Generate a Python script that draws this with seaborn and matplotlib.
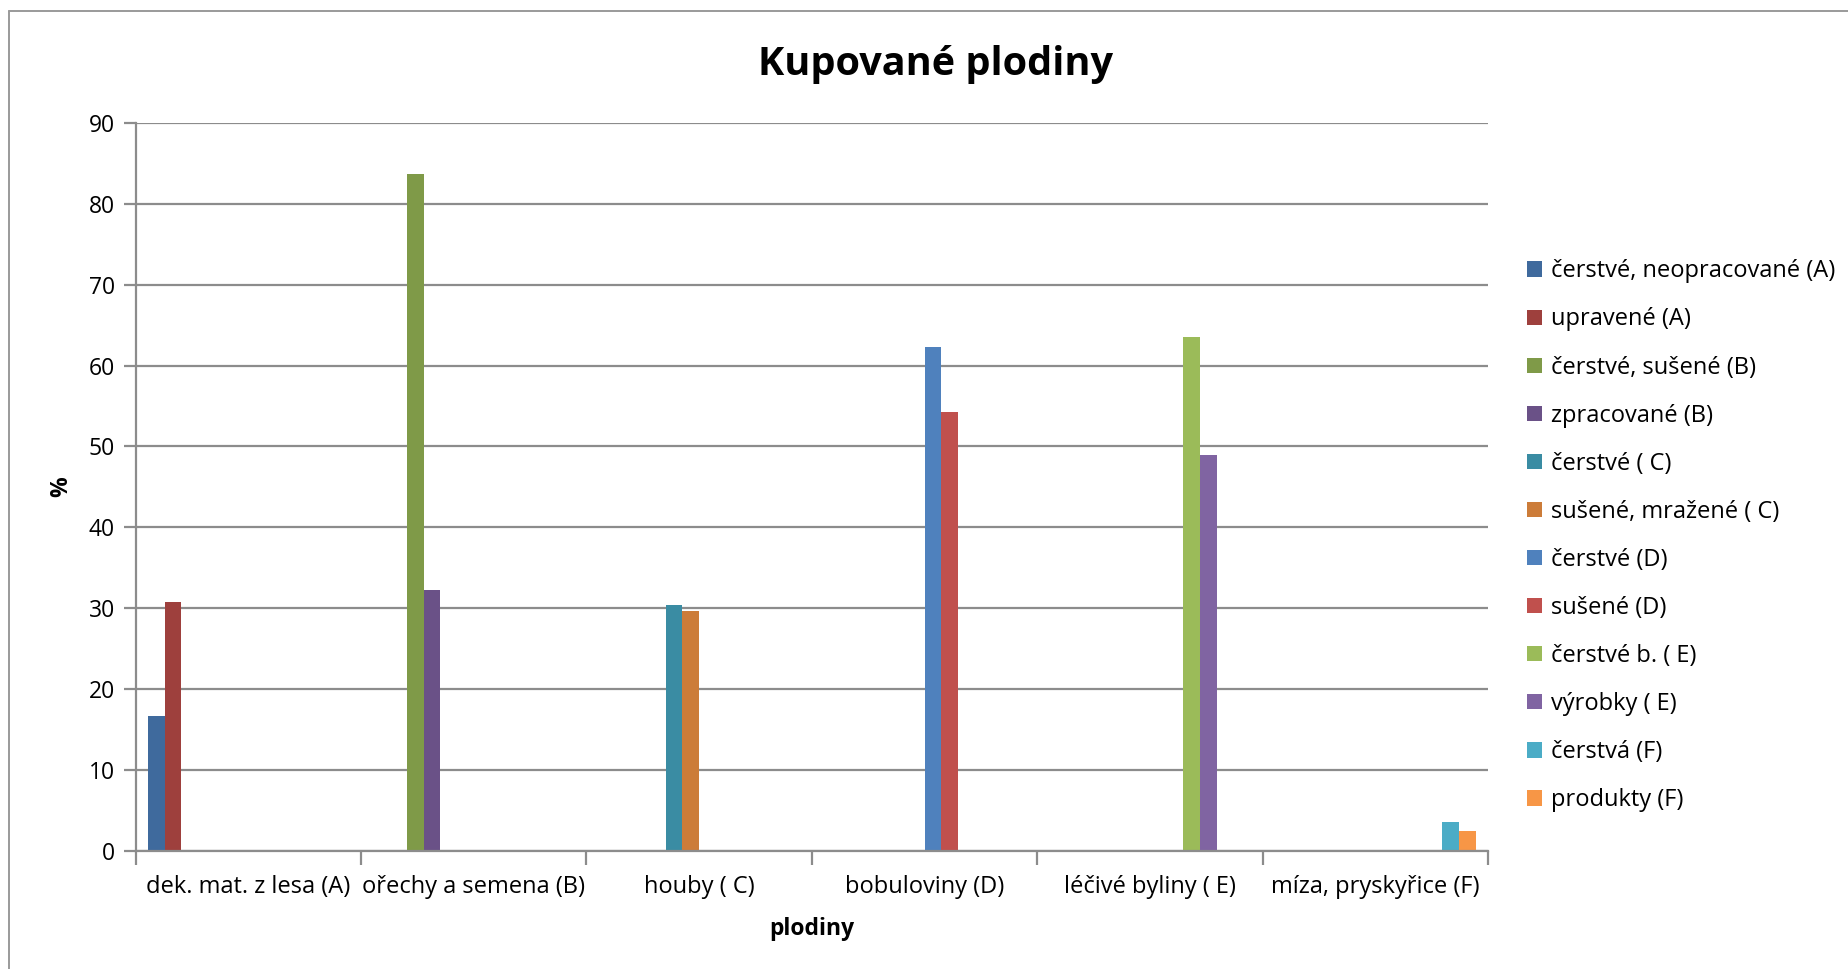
import matplotlib
matplotlib.use("Agg")
import matplotlib.pyplot as plt
from matplotlib.lines import Line2D
from matplotlib.ticker import FixedLocator, NullFormatter
import pandas as pd
import seaborn as sns

# Product groups on the x axis
categories = [
    "dek. mat. z lesa (A)",
    "ořechy a semena (B)",
    "houby ( C)",
    "bobuloviny (D)",
    "léčivé byliny ( E)",
    "míza, pryskyřice (F)",
]

# Series (legend entries), in legend order
series = [
    "čerstvé, neopracované (A)",
    "upravené (A)",
    "čerstvé, sušené (B)",
    "zpracované (B)",
    "čerstvé ( C)",
    "sušené, mražené ( C)",
    "čerstvé (D)",
    "sušené (D)",
    "čerstvé b. ( E)",
    "výrobky ( E)",
    "čerstvá (F)",
    "produkty (F)",
]

# Each series only has a value in its own product group (percent)
series_category = [0, 0, 1, 1, 2, 2, 3, 3, 4, 4, 5, 5]
series_values = [16.7, 30.8, 83.6, 32.3, 30.4, 29.7, 62.3, 54.2, 63.5, 48.9, 3.6, 2.5]

colors = [
    "#3F6A9D", "#9E403D", "#7F9A48", "#6A5187", "#3A8CA3", "#CC7C39",
    "#4F81BD", "#C0504D", "#9BBB59", "#8064A2", "#4BACC6", "#F79646",
]

rows = []
for s, cat_idx, val in zip(series, series_category, series_values):
    for ci, cat in enumerate(categories):
        rows.append({"plodina": cat, "series": s,
                     "value": val if ci == cat_idx else 0.0})
df = pd.DataFrame(rows)

sns.set_theme(style="white")
FONT = ["Open Sans", "DejaVu Sans"]
plt.rcParams["font.family"] = FONT
plt.rcParams["text.color"] = "black"
plt.rcParams["axes.labelcolor"] = "black"

fig = plt.figure(figsize=(18.49, 9.69), dpi=100)
ax = fig.add_axes([0.0733, 0.1214, 0.7315, 0.7521])

sns.barplot(
    data=df, x="plodina", y="value", hue="series",
    order=categories, hue_order=series, palette=colors,
    width=0.89, saturation=1, linewidth=0, errorbar=None, ax=ax,
)

grid_col = "#8C8C8C"
ax.set_xlim(-0.5, len(categories) - 0.5)
ax.set_ylim(0, 90)
ax.set_yticks(range(0, 91, 10))
ax.yaxis.grid(True, color=grid_col, linewidth=1.6)
ax.set_axisbelow(True)

for side in ("top", "right"):
    ax.spines[side].set_visible(False)
for side in ("left", "bottom"):
    ax.spines[side].set_color(grid_col)
    ax.spines[side].set_linewidth(1.6)

# Tick marks at the group boundaries, labels centred on groups
ax.xaxis.set_minor_locator(FixedLocator([i - 0.5 for i in range(len(categories) + 1)]))
ax.xaxis.set_minor_formatter(NullFormatter())
ax.tick_params(axis="x", which="major", length=0, pad=17, labelsize=17, labelcolor="black")
ax.tick_params(axis="x", which="minor", length=10, width=1.6, color=grid_col, bottom=True)
ax.tick_params(axis="y", which="major", length=9, width=1.6, color=grid_col, left=True,
               pad=6, labelsize=16.5, labelcolor="black")

ax.set_xlabel("plodiny", fontsize=16.5, fontweight="bold", labelpad=13, color="black")
ax.set_ylabel("%", fontsize=16.5, fontweight="bold", labelpad=11, color="black")

fig.text(0.506, 0.933, "Kupované plodiny", ha="center", va="center",
         fontsize=28.5, fontweight="bold", family=FONT, color="black")

handles, labels = ax.get_legend_handles_labels()
leg = ax.legend(handles, labels, loc="center left", bbox_to_anchor=(0.826, 0.447),
                bbox_transform=fig.transFigure, frameon=False, fontsize=17,
                handlelength=0.62, handleheight=0.62, handletextpad=0.4,
                labelspacing=1.02, borderpad=0, borderaxespad=0)
for t in leg.get_texts():
    t.set_color("black")

# Chart frame (left and top edges)
frame_col = "#9A9A9A"
fig.add_artist(Line2D([9.5 / 1849, 9.5 / 1849], [0, 1 - 11 / 969],
                      transform=fig.transFigure, color=frame_col, linewidth=1.4))
fig.add_artist(Line2D([9.5 / 1849, 1], [1 - 11 / 969, 1 - 11 / 969],
                      transform=fig.transFigure, color=frame_col, linewidth=1.4))

fig.savefig("out.png", dpi=100, facecolor="white")
